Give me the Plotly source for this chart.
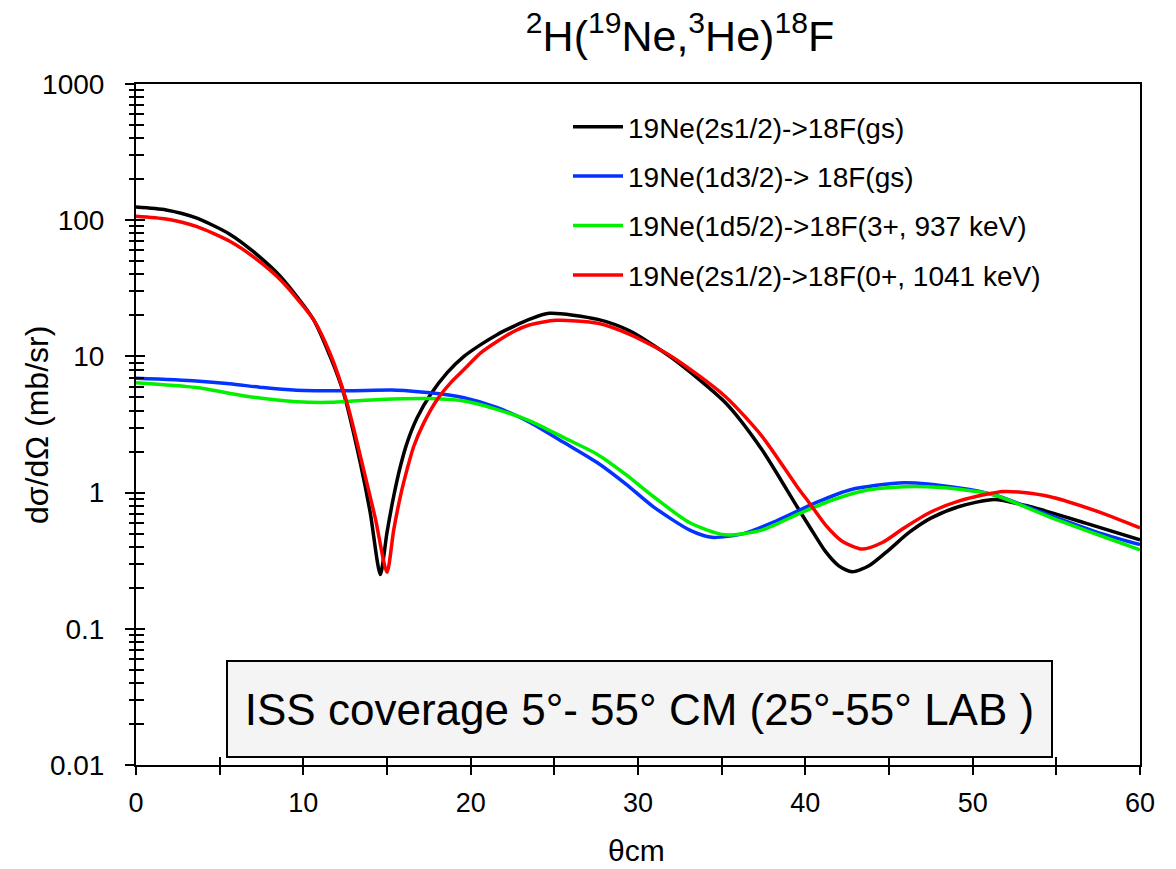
import plotly.graph_objects as go

# ---------------- data ----------------
theta_black = [0, 1.8, 3.6, 5.6, 7.0, 8.6, 10.6, 11.6, 12.4, 13.4, 14.0, 14.6, 15.0, 15.4, 15.8,
               16.2, 16.8, 17.6, 18.6, 19.6, 20.6, 21.6, 22.6, 23.5, 24.7, 27.6, 29.5, 32.0,
               35.2, 37.4, 39.5, 40.3, 41.2, 42.0, 42.8, 43.8, 45.0, 46.2, 47.5, 49.2, 51.3,
               53.4, 56.7, 60]
xs_black = [125, 119, 104, 79, 59, 39, 18.7, 10, 5.4, 1.66, 0.71, 0.25, 0.51, 0.94, 1.56,
            2.32, 3.54, 5.25, 7.6, 10, 12.2, 14.5, 16.7, 18.7, 20.7, 18.7, 15.4, 9.8,
            4.6, 2.07, 0.79, 0.55, 0.37, 0.29, 0.262, 0.29, 0.38, 0.51, 0.65, 0.79, 0.89,
            0.79, 0.60, 0.45]

theta_blue = [0, 3.6, 5.6, 7.6, 9.6, 12.6, 15.6, 17.6, 19.6, 21.6, 23.6, 25.6, 27.6, 29.3,
              30.9, 33.1, 34.4, 36.3, 38.4, 40.6, 42.7, 45.9, 49.2, 51.3, 54.5, 57.7, 60]
xs_blue = [6.9, 6.6, 6.3, 5.9, 5.65, 5.6, 5.65, 5.4, 4.97, 4.2, 3.25, 2.32, 1.65, 1.15,
           0.79, 0.53, 0.47, 0.50, 0.63, 0.84, 1.05, 1.18, 1.08, 0.96, 0.69, 0.50, 0.415]

theta_green = [0, 3.6, 6.6, 9.6, 11.6, 14.6, 17.6, 19.6, 21.6, 23.6, 25.6, 27.6, 29.3, 30.9,
               33.1, 35.2, 37.4, 39.5, 41.7, 43.8, 46.6, 49.2, 51.3, 54.5, 57.7, 60]
xs_green = [6.4, 5.9, 5.1, 4.65, 4.6, 4.83, 4.9, 4.7, 4.07, 3.34, 2.52, 1.9, 1.35, 0.94,
            0.60, 0.49, 0.53, 0.69, 0.89, 1.05, 1.11, 1.06, 0.96, 0.67, 0.48, 0.38]

theta_red = [0, 1.8, 3.6, 5.6, 7.0, 8.6, 10.6, 11.6, 12.6, 13.6, 14.3, 15.0, 15.4, 15.8,
             16.2, 16.6, 17.2, 18.0, 18.8, 19.6, 20.6, 21.6, 22.6, 23.5, 25.1, 27.6, 29.5,
             32.0, 35.2, 37.4, 39.5, 40.3, 41.2, 42.2, 43.4, 44.6, 45.9, 47.5, 49.2, 51.9,
             54.5, 57.7, 60]
xs_red = [107, 102, 90, 70, 54, 36.8, 18.7, 10.5, 4.6, 1.48, 0.65, 0.26, 0.53, 0.94,
          1.48, 2.19, 3.25, 4.83, 6.4, 8.0, 10.6, 12.9, 15.3, 17, 18.4, 17.5, 14.5,
          10.0, 5.1, 2.6, 1.11, 0.82, 0.58, 0.44, 0.385, 0.43, 0.55, 0.72, 0.87, 1.02,
          0.94, 0.71, 0.55]

series_names = ["19Ne(2s1/2)->18F(gs)", "19Ne(1d3/2)-> 18F(gs)",
                "19Ne(1d5/2)->18F(3+, 937 keV)", "19Ne(2s1/2)->18F(0+, 1041 keV)"]
series_colors = ["#000000", "#0433ff", "#00f000", "#ff0000"]

x_tickvals = [0, 10, 20, 30, 40, 50, 60]
y_tickvals = [0.01, 0.1, 1, 10, 100, 1000]
y_ticktext = ["0.01", "0.1", "1", "10", "100", "1000"]

FONT = "Liberation Sans, Arial, sans-serif"

fig = go.Figure()
data = [(theta_black, xs_black), (theta_blue, xs_blue), (theta_green, xs_green), (theta_red, xs_red)]
for i, ((tx, ty), name, col) in enumerate(zip(data, series_names, series_colors)):
    fig.add_trace(go.Scatter(x=tx, y=ty, mode="lines", name=name, legendgroup=f"g{i}",
                             line=dict(color=col, width=3.5, shape="spline", smoothing=0.7)))

# dummy trace on overlay axes (inside ticks to make crossing ticks)
fig.add_trace(go.Scatter(x=[None], y=[None], xaxis="x2", yaxis="y2", showlegend=False,
                         hoverinfo="skip"))

fig.update_layout(
    width=1176, height=869,
    margin=dict(l=136, r=36, t=84, b=104),
    paper_bgcolor="white", plot_bgcolor="white",
    font=dict(family=FONT, color="black"),
    title=dict(text="<sup>2</sup>H(<sup>19</sup>Ne,<sup>3</sup>He)<sup>18</sup>F",
               x=680/1176, xanchor="center", xref="container",
               y=1-36/869, yanchor="middle", yref="container",
               font=dict(size=43, family=FONT)),
    xaxis=dict(range=[0, 60], tickvals=x_tickvals, ticks="outside", ticklen=8, tickwidth=1.5,
               tickcolor="black", showline=True, linecolor="black", linewidth=2, mirror=True,
               showgrid=False, zeroline=False,
               minor=dict(dtick=5, ticks="outside", ticklen=8, tickwidth=1.5, tickcolor="black"),
               tickfont=dict(size=27), ticklabelstandoff=5),
    yaxis=dict(type="log", range=[-2, 3], tickvals=y_tickvals, ticktext=y_ticktext,
               ticks="outside", ticklen=9, tickwidth=1.5, tickcolor="black",
               showline=True, linecolor="black", linewidth=2, mirror=True,
               showgrid=False, zeroline=False,
               minor=dict(dtick="D1", ticks="outside", ticklen=5, tickwidth=1.5, tickcolor="black"),
               tickfont=dict(size=28), ticklabelstandoff=15),
    xaxis2=dict(overlaying="x", range=[0, 60], tickvals=x_tickvals, ticks="inside", ticklen=8,
                tickwidth=1.5, tickcolor="black", showticklabels=False, showgrid=False,
                zeroline=False, showline=False, side="bottom",
                minor=dict(dtick=5, ticks="inside", ticklen=8, tickwidth=1.5, tickcolor="black")),
    yaxis2=dict(overlaying="y", type="log", range=[-2, 3], tickvals=y_tickvals, ticks="inside",
                ticklen=9, tickwidth=1.5, tickcolor="black", showticklabels=False,
                showgrid=False, zeroline=False, showline=False, side="left",
                minor=dict(dtick="D1", ticks="inside", ticklen=8, tickwidth=1.5, tickcolor="black")),
    legend=dict(x=(568-136)/1004, xanchor="left", y=1-(102-84)/681, yanchor="top",
                font=dict(size=28, family=FONT), bgcolor="rgba(0,0,0,0)",
                tracegroupgap=10, itemwidth=50),
    showlegend=True,
)

# axis titles
fig.add_annotation(x=(37-136)/1004, y=(765-425)/681, xref="paper", yref="paper",
                   text="dσ/dΩ (mb/sr)", textangle=-90, showarrow=False,
                   xanchor="center", yanchor="middle", font=dict(size=32, family=FONT))
fig.add_annotation(x=(636-136)/1004, y=(765-850)/681, xref="paper", yref="paper",
                   text="θcm", showarrow=False, xanchor="center", yanchor="middle",
                   font=dict(size=30, family=FONT))

fig.add_annotation(
    x=30.09, y=-1.588, xref="x", yref="y",
    text="ISS coverage 5°- 55° CM (25°-55° LAB )",
    showarrow=False, font=dict(size=44, family=FONT, color="black"),
    bgcolor="#f4f4f4", bordercolor="black", borderwidth=2, borderpad=0,
    width=823, height=94, align="center", valign="middle",
)

fig.write_html("out.html")
